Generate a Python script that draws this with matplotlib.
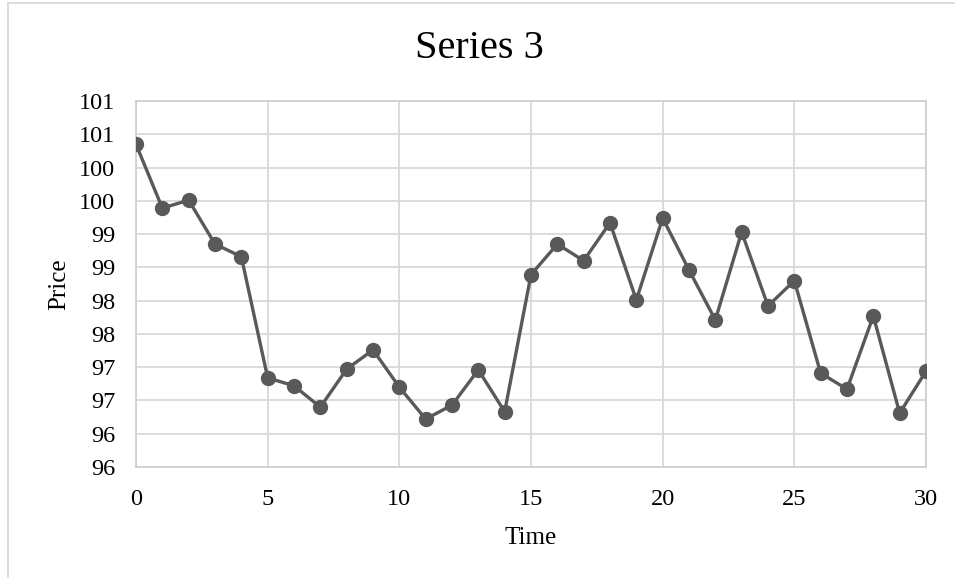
import numpy as np
import matplotlib
matplotlib.use("Agg")
import matplotlib.pyplot as plt
from matplotlib.patches import Rectangle
from matplotlib.ticker import FixedLocator, FuncFormatter

# Series 3 values
time = list(range(31))
price = [100.35, 99.39, 99.51, 98.85, 98.66, 96.84, 96.72, 96.40, 96.97, 97.26,
         96.70, 96.22, 96.43, 96.96, 96.33, 98.39, 98.85, 98.60, 99.17, 98.01,
         99.24, 98.46, 97.71, 99.03, 97.92, 98.30, 96.91, 96.67, 97.77, 96.31,
         96.94]
y_ticks = [95.5, 96.0, 96.5, 97.0, 97.5, 98.0, 98.5, 99.0, 99.5, 100.0, 100.5, 101.0]
x_ticks = [0, 5, 10, 15, 20, 25, 30]

plt.rcParams['font.family'] = ['Liberation Serif', 'DejaVu Serif']

fig = plt.figure(figsize=(9.55, 5.78), dpi=100)
ax = fig.add_axes([136 / 955, 1 - 467 / 578, 790 / 955, 366 / 578])

ax.plot(time, price, color="#595959", linewidth=2.4, marker="o",
        markersize=10, zorder=3)

ax.set_xlim(0, 30)
ax.set_ylim(95.5, 101.0)
ax.xaxis.set_major_locator(FixedLocator(x_ticks))
ax.yaxis.set_major_locator(FixedLocator(y_ticks))
# Excel rounds the half-step labels to whole numbers
ax.yaxis.set_major_formatter(FuncFormatter(lambda v, _: f"{int(np.floor(v + 0.5))}"))
ax.tick_params(length=0, labelsize=17.5, colors="#000000")
ax.tick_params(axis="y", pad=15)
ax.tick_params(axis="x", pad=16)
ax.grid(True, color="#d9d9d9", linewidth=1.3)
ax.set_axisbelow(True)
for s in ax.spines.values():
    s.set_color("#d0d0d0")
    s.set_linewidth(1.3)

ax.set_xlabel("Time", fontsize=18, labelpad=12)
ax.set_ylabel("Price", fontsize=18, labelpad=6)
fig.text(479 / 955, 1 - 49 / 578, "Series 3", fontsize=29, ha="center", va="center")

# chart-area border (extends past the image edges)
fig.add_artist(Rectangle((8 / 955, -0.1), 1.2, 1 - 3 / 578 + 0.1,
                         transform=fig.transFigure, fill=False,
                         edgecolor="#d9d9d9", linewidth=1.3))

fig.savefig("out.png", dpi=100)
